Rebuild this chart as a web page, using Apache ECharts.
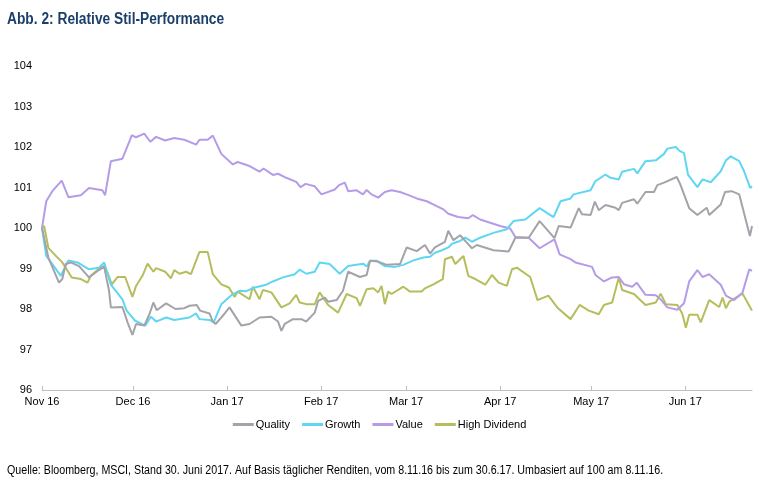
<!DOCTYPE html>
<html>
<head>
<meta charset="utf-8">
<script src="https://cdn.jsdelivr.net/npm/echarts@6/dist/echarts.min.js"></script>
<style>
html,body{margin:0;padding:0;background:#fff;}
#chart{width:759px;height:490px;}
</style>
</head>
<body>
<div id="chart"></div>
<script>
// Days since 8.11.2016 (x) and index values (y)
var tickDays = [0, 30, 61, 92, 120, 151, 181, 212];
var tickLabels = ['Nov 16', 'Dec 16', 'Jan 17', 'Feb 17', 'Mar 17', 'Apr 17', 'May 17', 'Jun 17'];
var seriesNames = ['Quality', 'Growth', 'Value', 'High Dividend'];
var titleText = 'Abb. 2: Relative Stil-Performance';
var sourceText = 'Quelle: Bloomberg, MSCI, Stand 30. Juni 2017. Auf Basis täglicher Renditen, vom 8.11.16 bis zum 30.6.17. Umbasiert auf 100 am 8.11.16.';

var qualityDays = [0,2.1,5.6,6.7,7.8,9.5,12.2,15.5,18.3,20.5,22.1,22.7,26.5,28.2,29.8,31.0,33.7,35.4,36.7,37.8,40.9,44.0,46.9,48.6,51.0,52.1,55.2,56.3,57.2,59.1,61.8,65.7,68.4,71.7,75.6,77.8,78.9,80.0,82.7,85.5,87.1,89.9,91.0,93.2,94.3,97.1,99.2,100.9,104.8,107.0,108.1,110.8,113.6,118.0,120.2,123.5,126.2,127.9,129.5,132.8,133.9,135.6,137.8,140.0,141.7,143.3,148.8,153.8,156.0,160.4,164.0,168.9,170.3,174.2,176.9,178.0,180.8,182.2,183.5,185.7,189.0,190.1,191.2,195.1,196.2,198.9,201.7,202.8,205.0,209.2,210.3,213.3,216.0,219.1,219.9,223.7,225.1,227.3,229.8,231.2,233.3,234];
var qualityVals = [100,99.27,98.65,98.74,99.11,99.15,99.06,98.78,98.94,99.04,98.45,98.04,98.05,97.67,97.36,97.63,97.59,97.87,98.16,97.97,98.14,98.00,98.02,98.08,98.10,97.96,97.89,97.69,97.63,97.79,98.04,97.59,97.63,97.79,97.81,97.69,97.46,97.63,97.75,97.75,97.69,97.91,98.20,98.28,98.18,98.22,98.45,98.92,98.79,98.84,99.19,99.17,99.09,99.11,99.52,99.43,99.58,99.37,99.52,99.66,99.93,99.70,99.82,99.64,99.50,99.58,99.45,99.42,99.76,99.76,100.17,99.75,100.05,100.01,100.49,100.34,100.32,100.65,100.44,100.57,100.50,100.44,100.62,100.71,100.60,100.89,100.89,101.06,101.12,101.26,101.09,100.49,100.32,100.50,100.32,100.58,100.89,100.91,100.83,100.42,99.80,100.05];

var growthDays = [0,1.4,3.4,6.2,8.7,11.7,15.5,18.8,20.5,22.7,26.5,27.9,30.7,34.0,35.9,37.6,40.9,43.6,48.6,50.8,51.9,55.2,56.6,59.1,62.4,65.1,67.3,70.1,73.9,76.1,79.4,83.3,84.9,87.1,89.9,91.5,94.8,98.1,100.9,105.8,107.0,108.1,110.3,113.0,116.3,119.1,122.4,125.7,127.9,129.5,131.8,133.9,135.1,137.8,139.5,140.5,141.7,144.4,148.8,153.2,155.4,159.3,164.0,168.6,170.9,174.2,175.2,180.8,182.4,184.1,185.7,187.4,190.1,191.2,195.1,196.2,198.9,202.3,205.0,206.1,208.9,210.0,211.6,212.9,216.0,217.7,220.4,223.7,225.4,227.0,229.8,231.4,233.4,234];
var growthVals = [100,99.31,99.11,98.82,99.20,99.15,98.98,99.02,99.15,98.60,98.24,97.96,97.71,97.59,97.81,97.69,97.79,97.73,97.79,97.89,97.75,97.73,97.67,98.12,98.34,98.45,98.44,98.53,98.60,98.68,98.78,98.86,98.97,98.87,98.92,99.15,99.11,98.87,99.06,99.12,99.05,99.19,99.19,99.06,99.04,99.09,99.20,99.27,99.29,99.39,99.45,99.52,99.61,99.68,99.76,99.72,99.66,99.76,99.88,99.97,100.17,100.21,100.49,100.27,100.66,100.73,100.83,100.93,101.16,101.24,101.32,101.24,101.20,101.39,101.46,101.35,101.65,101.67,101.83,101.96,102.00,101.91,101.85,101.32,101.01,101.20,101.13,101.40,101.67,101.77,101.65,101.40,100.99,101.03];

var valueDays = [0,1.4,3.4,6.5,8.7,12.8,15.5,19.9,20.8,22.7,26.5,29.6,31.0,33.7,35.7,37.6,40.6,43.6,46.9,50.8,51.9,54.6,56.3,59.1,62.9,64.5,68.4,71.7,73.0,76.1,77.8,80.5,83.8,85.2,86.9,89.9,92.1,96.5,97.9,99.8,100.9,103.7,105.8,107.0,108.6,110.8,113.0,115.2,118.0,120.2,123.5,126.8,130.1,132.3,133.9,137.2,140.5,142.0,144.4,147.7,151.0,154.3,156.0,160.4,164.0,168.9,170.6,174.2,175.8,181.3,182.4,185.2,187.9,190.1,191.8,194.5,196.0,198.9,202.3,203.9,206.1,209.4,211.6,213.3,216.0,217.7,219.9,223.7,225.4,228.1,230.9,233.1,234];
var valueVals = [100,100.66,100.91,101.17,100.76,100.81,100.99,100.93,100.81,101.65,101.71,102.29,102.24,102.33,102.13,102.25,102.16,102.22,102.18,102.06,102.18,102.18,102.28,101.83,101.57,101.63,101.53,101.39,101.47,101.31,101.34,101.24,101.14,101.01,101.09,101.03,100.83,100.95,101.06,101.12,100.91,100.93,100.83,100.94,100.83,100.75,100.89,100.93,100.89,100.83,100.73,100.66,100.54,100.46,100.35,100.27,100.24,100.32,100.21,100.13,100.05,99.99,99.78,99.76,99.50,99.72,99.35,99.23,99.15,99.04,98.84,98.68,98.78,98.79,98.61,98.55,98.65,98.35,98.34,98.24,98.04,97.98,98.14,98.68,98.96,98.79,98.86,98.60,98.33,98.22,98.41,98.98,98.94];

var dividendDays = [0,0.7,2.1,5.1,6.5,7.8,9.8,12.8,15.0,16.1,18.3,20.2,21.6,23.0,24.9,27.4,29.8,31.0,33.1,34.8,36.7,37.6,40.6,42.5,43.6,45.3,47.5,49.1,51.9,54.6,56.3,59.1,61.6,63.5,64.5,68.4,69.5,71.7,72.8,75.6,78.9,81.6,83.8,84.9,87.1,89.9,91.5,94.3,97.6,100.4,103.7,104.8,107.0,109.2,110.8,111.9,113.0,114.1,115.2,119.1,121.3,125.1,126.2,129.0,132.1,132.8,135.1,136.2,138.9,140.5,142.8,146.1,148.3,150.5,153.2,154.9,156.5,160.9,163.3,166.9,169.8,174.2,177.2,180.2,183.5,185.2,187.9,190.1,191.2,195.1,198.9,202.3,203.9,205.6,209.4,211.0,212.2,213.3,216.0,217.1,219.9,223.2,224.3,225.4,226.5,230.9,233.1,234];
var dividendVals = [100,100.05,99.51,99.27,99.17,99.02,98.78,98.74,98.65,98.82,98.96,99.06,98.90,98.61,98.79,98.79,98.30,98.57,98.82,99.12,98.92,99.01,98.92,98.76,98.96,98.87,98.92,98.86,99.41,99.41,98.86,98.61,98.53,98.30,98.43,98.24,98.55,98.24,98.47,98.41,98.04,98.14,98.35,98.16,98.12,98.12,98.41,98.10,97.91,98.37,98.27,98.08,98.49,98.51,98.41,98.57,98.12,98.43,98.37,98.55,98.43,98.43,98.51,98.61,98.74,99.23,99.29,99.11,99.31,98.82,98.74,98.60,98.84,98.65,98.57,98.98,99.02,98.79,98.22,98.33,98.04,97.75,98.10,97.96,97.87,98.10,98.16,98.78,98.47,98.37,98.10,98.16,98.38,98.12,98.10,97.89,97.54,97.86,97.86,97.67,98.22,98.05,98.28,98.02,98.18,98.38,98.08,97.96];

var colors = ['#a3a3a9', '#5fd6f2', '#b59be8', '#b6bd5c'];

function pairs(xs, ys) { return xs.map(function (x, i) { return [x, ys[i]]; }); }

var FONT = '"Liberation Sans", Arial, sans-serif';
var chart = echarts.init(document.getElementById('chart'), null, { renderer: 'canvas' });
var dataSets = [pairs(qualityDays, qualityVals), pairs(growthDays, growthVals), pairs(valueDays, valueVals), pairs(dividendDays, dividendVals)];

chart.setOption({
  animation: false,
  backgroundColor: '#ffffff',
  color: colors,
  graphic: [{
    type: 'text', left: 7, top: 12, scaleX: 0.86,
    style: { text: titleText, font: 'bold 16px ' + FONT, fill: '#1b3f6b' }
  }, {
    type: 'text', left: 7, top: 465, scaleX: 0.89,
    style: { text: sourceText, font: '12px ' + FONT, fill: '#000' }
  }],
  legend: {
    data: seriesNames,
    left: 'center', top: 414,
    icon: 'rect', itemWidth: 21, itemHeight: 3, itemGap: 12,
    textStyle: { fontFamily: FONT, fontSize: 11, color: '#000', padding: [0, 0, 0, -3] }
  },
  grid: { left: 42, right: 7, top: 66, bottom: 100, containLabel: false },
  xAxis: {
    type: 'value', min: 0, max: 234,
    axisLine: { show: true, lineStyle: { color: '#bfbfbf', width: 1 } },
    axisTick: { show: true, inside: true, length: 4, customValues: tickDays, lineStyle: { color: '#bfbfbf' } },
    axisLabel: {
      customValues: tickDays,
      formatter: function (v) { var i = tickDays.indexOf(v); return i >= 0 ? tickLabels[i] : ''; },
      fontFamily: FONT, fontSize: 11, color: '#000', margin: 6
    },
    splitLine: { show: false }
  },
  yAxis: {
    type: 'value', min: 96, max: 104, interval: 1,
    axisLine: { show: false }, axisTick: { show: false },
    axisLabel: { fontFamily: FONT, fontSize: 11, color: '#000', margin: 10 },
    splitLine: { show: false }
  },
  series: seriesNames.map(function (n, i) {
    return {
      name: n, type: 'line', data: dataSets[i], showSymbol: false, symbol: 'none',
      lineStyle: { width: 2, color: colors[i] }, itemStyle: { color: colors[i] }, z: 10 - i
    };
  })
});
</script>
</body>
</html>
